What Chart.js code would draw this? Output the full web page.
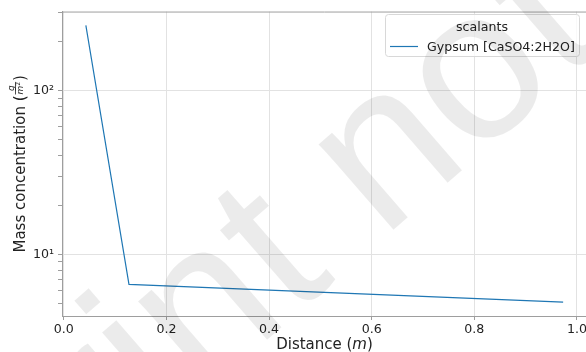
<!DOCTYPE html>
<html>
<head>
<meta charset="utf-8">
<script src="https://cdn.jsdelivr.net/npm/chart.js@4.4.0/dist/chart.umd.min.js"></script>
<style>
html, body { margin: 0; padding: 0; overflow: hidden; background: #fff; }
#wrap { position: absolute; left: 0; top: 0; width: 600px; height: 352px; }
</style>
</head>
<body>
<div id="wrap"><canvas id="chart" width="600" height="352"></canvas></div>
<script>
// scaling profile along the channel
const distance = [0.043, 0.127, 0.973];
const gypsum = [250, 6.56, 5.12];
const seriesLabel = 'Gypsum [CaSO4:2H2O]';
const legendTitle = 'scalants';
const xTicks = [0, 0.2, 0.4, 0.6, 0.8, 1.0];
const yTicks = [5, 6, 7, 8, 9, 10, 20, 30, 40, 50, 60, 70, 80, 90, 100, 200, 300];
const yLabels = { 10: '10¹', 100: '10²' };
const stampText = 'Preprint not peer reviewed';

const FONT = "'DejaVu Sans', sans-serif";
const TEXT = '#222';
const GRID = '#e2e2e2';
const SPINE = '#9e9e9e';

// axis titles with math parts, top spine, legend box and the stamp
const decor = {
  id: 'decor',
  afterDraw(chart) {
    const ctx = chart.ctx;
    const a = chart.chartArea;
    ctx.save();

    // top spine
    ctx.strokeStyle = SPINE;
    ctx.lineWidth = 1;
    ctx.beginPath();
    ctx.moveTo(a.left, a.top + 0.5);
    ctx.lineTo(a.right, a.top + 0.5);
    ctx.stroke();

    ctx.fillStyle = TEXT;
    ctx.textBaseline = 'alphabetic';
    ctx.textAlign = 'left';

    // x title: Distance (m), m in italic
    const cx = (a.left + a.right) / 2;
    ctx.font = '15px ' + FONT;
    const p1 = 'Distance (', p3 = ')';
    const w1 = ctx.measureText(p1).width, w3 = ctx.measureText(p3).width;
    ctx.font = 'italic 15px ' + FONT;
    const w2 = ctx.measureText('m').width;
    let x = cx - (w1 + w2 + w3) / 2;
    const by = 349;
    ctx.font = '15px ' + FONT;
    ctx.fillText(p1, x, by);
    ctx.font = 'italic 15px ' + FONT;
    ctx.fillText('m', x + w1, by);
    ctx.font = '15px ' + FONT;
    ctx.fillText(p3, x + w1 + w2, by);

    // y title: Mass concentration (g / m²)
    ctx.save();
    ctx.translate(25, (a.top + a.bottom) / 2);
    ctx.rotate(-Math.PI / 2);
    ctx.font = '15px ' + FONT;
    const q1 = 'Mass concentration (';
    const qw1 = ctx.measureText(q1).width;
    const qw3 = ctx.measureText(')').width;
    ctx.font = 'italic 9px ' + FONT;
    const gw = ctx.measureText('g').width;
    const mw = ctx.measureText('m').width;
    ctx.font = '6px ' + FONT;
    const sw = ctx.measureText('2').width;
    const fw = Math.max(gw, mw + sw) + 2;
    const total = qw1 + fw + qw3;
    let tx = -total / 2;
    ctx.font = '15px ' + FONT;
    ctx.fillText(q1, tx, 0);
    tx += qw1;
    ctx.font = 'italic 9px ' + FONT;
    ctx.textAlign = 'center';
    ctx.fillText('g', tx + fw / 2, -11.5);
    ctx.fillRect(tx + 1, -10, fw - 2, 0.8);
    ctx.textAlign = 'left';
    const dx = tx + (fw - mw - sw) / 2;
    ctx.fillText('m', dx, -2);
    ctx.font = '6px ' + FONT;
    ctx.fillText('2', dx + mw, -5);
    tx += fw;
    ctx.font = '15px ' + FONT;
    ctx.fillText(')', tx, 0);
    ctx.restore();

    // legend box
    const ds = chart.data.datasets[0];
    const lx = 385, ly = 14.5, lw = 194, lh = 42;
    ctx.fillStyle = 'rgba(255,255,255,0.8)';
    ctx.strokeStyle = '#d8d8d8';
    ctx.lineWidth = 1;
    ctx.beginPath();
    ctx.roundRect(lx + 0.5, ly, lw, lh, 3);
    ctx.fill();
    ctx.stroke();
    ctx.fillStyle = TEXT;
    ctx.font = '12.6px ' + FONT;
    ctx.textAlign = 'center';
    ctx.fillText(legendTitle, lx + lw / 2, 31);
    ctx.textAlign = 'left';
    ctx.strokeStyle = ds.borderColor;
    ctx.lineWidth = ds.borderWidth;
    ctx.beginPath();
    ctx.moveTo(390, 46.5);
    ctx.lineTo(418, 46.5);
    ctx.stroke();
    ctx.fillText(ds.label, 427, 51);

    // light stamp across the figure, anchored at the "t" of the first word
    ctx.save();
    ctx.font = "215px 'Liberation Sans', sans-serif";
    ctx.fillStyle = 'rgba(0,0,0,0.08)';
    ctx.translate(292, 318);
    ctx.rotate(-41 * Math.PI / 180);
    const off = ctx.measureText('Preprin').width;
    ctx.fillText(stampText, -off, 0);
    ctx.restore();

    ctx.restore();
  }
};

new Chart(document.getElementById('chart'), {
  type: 'line',
  data: {
    datasets: [{
      label: seriesLabel,
      data: distance.map((d, i) => ({ x: d, y: gypsum[i] })),
      borderColor: '#1f77b4',
      borderWidth: 1.2,
      pointRadius: 0,
      fill: false,
      tension: 0
    }]
  },
  options: {
    responsive: false,
    animation: false,
    layout: { padding: { top: 9, right: 13, left: 0, bottom: 0 } },
    plugins: { legend: { display: false }, tooltip: { enabled: false } },
    scales: {
      x: {
        type: 'linear',
        min: -0.0035,
        max: 1.0195,
        afterBuildTicks: s => { s.ticks = xTicks.map(v => ({ value: v })); },
        afterFit: s => { s.height = 36; },
        ticks: {
          callback: v => v.toFixed(1),
          font: { family: FONT, size: 12.6 },
          color: TEXT,
          padding: 2,
          maxRotation: 0,
          autoSkip: false
        },
        grid: { color: GRID, tickColor: SPINE, tickLength: 4 },
        border: { color: SPINE, width: 1 }
      },
      y: {
        type: 'logarithmic',
        min: 4.21,
        max: 303.8,
        afterBuildTicks: s => { s.ticks = yTicks.map(v => ({ value: v, major: !!yLabels[v] })); },
        afterFit: s => { s.width = 62; },
        ticks: {
          callback: v => yLabels[v] || '',
          font: { family: FONT, size: 12.6 },
          color: TEXT,
          padding: 4,
          autoSkip: false
        },
        grid: {
          color: c => (c.tick && yLabels[c.tick.value]) ? GRID : 'rgba(0,0,0,0)',
          tickColor: SPINE,
          tickLength: 4
        },
        border: { color: SPINE, width: 1 }
      }
    }
  },
  plugins: [decor]
});
</script>
</body>
</html>
